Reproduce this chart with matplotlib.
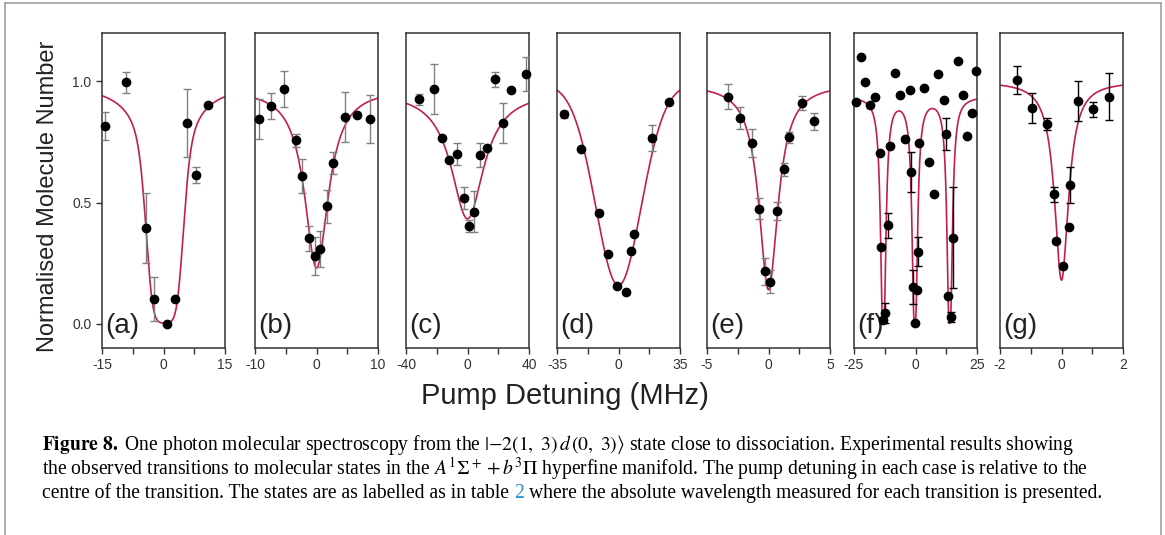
import numpy as np
import matplotlib.pyplot as plt

plt.rcParams['font.family'] = ['Liberation Sans', 'DejaVu Sans']
plt.rcParams['mathtext.fontset'] = 'stix'
plt.rcParams['axes.unicode_minus'] = False

# measured points (detuning in MHz, normalised number, error; 0 = no bar)
a_x = [-14.2, -9.2, -4.2, -2.3, 0.9, 2.8, 5.8, 7.9, 10.9]
a_y = [0.815, 0.996, 0.396, 0.103, 0.0, 0.103, 0.828, 0.615, 0.901]
a_err = [0.058, 0.043, 0.144, 0.09, 0, 0, 0.139, 0.033, 0]

b_x = [-9.35, -7.35, -5.35, -3.3, -2.4, -1.3, -0.32, 0.65, 1.68, 2.7, 4.7, 6.65, 8.7]
b_y = [0.845, 0.898, 0.970, 0.758, 0.609, 0.352, 0.280, 0.308, 0.484, 0.662, 0.853, 0.863, 0.845]
b_err = [0.081, 0.054, 0.074, 0.027, 0.069, 0.05, 0.077, 0.075, 0.07, 0.045, 0.104, 0, 0.10]

c_x = [-31.8, -22.1, -16.9, -12.0, -6.8, -2.0, 1.2, 4.0, 8.1, 13.0, 18.2, 23.2, 28.1, 38.0]
c_y = [0.926, 0.970, 0.766, 0.676, 0.70, 0.519, 0.404, 0.463, 0.695, 0.724, 1.01, 0.828, 0.963, 1.03]
c_err = [0.023, 0.103, 0, 0, 0.045, 0.045, 0.025, 0.085, 0.05, 0, 0.031, 0.082, 0, 0.069]

d_x = [-31.2, -21.3, -11.0, -6.1, -0.95, 4.2, 6.85, 8.9, 18.8, 28.7]
d_y = [0.865, 0.723, 0.459, 0.288, 0.155, 0.132, 0.299, 0.371, 0.768, 0.916]
d_err = [0.015, 0, 0, 0, 0, 0, 0, 0, 0.054, 0]

e_x = [-3.3, -2.32, -1.35, -0.81, -0.32, 0.16, 0.70, 1.22, 1.70, 2.70, 3.73]
e_y = [0.937, 0.849, 0.747, 0.474, 0.216, 0.173, 0.466, 0.637, 0.769, 0.913, 0.835]
e_err = [0.051, 0.045, 0.057, 0.043, 0.056, 0.048, 0.038, 0.026, 0.021, 0.029, 0.036]

f_x = [-24.2, -22.3, -20.6, -18.3, -16.3, -14.4, -13.9, -13.3, -12.4, -11.3, -10.4, -8.2,
       -6.4, -4.4, -2.35, -1.7, -1.1, -0.07, 0.74, 1.14, 1.41, 3.55, 5.4, 7.4, 9.3, 11.4,
       12.4, 13.3, 14.5, 15.3, 17.2, 19.4, 21.1, 23.1, 24.6]
f_y = [0.916, 1.099, 0.999, 0.904, 0.934, 0.703, 0.318, 0.017, 0.045, 0.406, 0.733, 1.034,
       0.944, 0.761, 0.963, 0.627, 0.151, 0.004, 0.139, 0.298, 0.744, 0.971, 0.668, 0.534,
       1.029, 0.922, 0.784, 0.116, 0.029, 0.356, 1.083, 0.946, 0.774, 0.871, 1.044]
f_err = [0, 0, 0, 0, 0, 0, 0, 0.012, 0.04, 0.05, 0, 0,
         0, 0, 0, 0.083, 0.069, 0, 0, 0.061, 0, 0, 0, 0,
         0, 0, 0.067, 0, 0.02, 0.21, 0, 0, 0, 0, 0]

g_x = [-1.45, -0.95, -0.47, -0.25, -0.17, 0.04, 0.24, 0.29, 0.55, 1.02, 1.54]
g_y = [1.005, 0.889, 0.824, 0.534, 0.343, 0.238, 0.40, 0.573, 0.920, 0.885, 0.937]
g_err = [0.058, 0.062, 0.024, 0.031, 0, 0, 0, 0.073, 0.082, 0.03, 0.096]

# fit parameters: baseline, depth, HWHM, lorentz fraction, centres, saturated
fit_a = [0.99, 6.0, 2.6, 0.3, [0.3], True]
fit_b = [0.97, 0.74, 2.35, 1.0, [0.0], False]
fit_c = [0.96, 0.527, 12.96, 1.0, [0.0], False]
fit_d = [1.0, 0.842, 15.5, 0.1, [0.0], False]
fit_e = [0.99, 0.85, 0.94, 1.0, [0.0], False]
fit_f = [0.94, 6.6, 0.45, 1.0, [-13.1, -0.27, 13.9], True]
fit_g = [1.0, 0.82, 0.276, 1.0, [0.0], False]

spans = [15, 10, 40, 35, 5, 25, 2]
labels = ['(a)', '(b)', '(c)', '(d)', '(e)', '(f)', '(g)']
lefts = [102, 255, 406, 557, 707, 854, 1000]


def fit_curve(x, c, k, g, eta, centres, sat):
    prof = np.zeros_like(x)
    for x0 in centres:
        u = ((x - x0) / g) ** 2
        prof = prof + eta / (1 + u) + (1 - eta) * np.exp(-np.log(2) * u)
    if sat:
        return c * np.exp(-k * prof)
    return c - k * prof


W, H = 1165, 535
fig = plt.figure(figsize=(W / 100, H / 100), dpi=100)

panels = [(a_x, a_y, a_err, fit_a), (b_x, b_y, b_err, fit_b), (c_x, c_y, c_err, fit_c),
          (d_x, d_y, d_err, fit_d), (e_x, e_y, e_err, fit_e), (f_x, f_y, f_err, fit_f),
          (g_x, g_y, g_err, fit_g)]

for i, (xs, ys, errs, fit) in enumerate(panels):
    ax = fig.add_axes([lefts[i] / W, 1 - 348 / H, 123 / W, 315 / H])
    s = spans[i]
    xx = np.linspace(-s, s, 600)
    ax.plot(xx, fit_curve(xx, *fit), color='#c21f4b', lw=1.2, zorder=2)
    xs, ys, errs = np.array(xs), np.array(ys), np.array(errs)
    m = errs > 0
    ecol = 'black' if i >= 5 else '#808080'
    ax.errorbar(xs[m], ys[m], yerr=errs[m], fmt='none', ecolor=ecol, elinewidth=1,
                capsize=3, capthick=1, zorder=3)
    ax.plot(xs, ys, 'o', color='black', ms=6, zorder=4, clip_on=False)
    ax.set_xlim(-s, s)
    ax.set_ylim(-0.1, 1.2)
    ax.set_xticks([-s, 0, s])
    ax.set_xticklabels([str(-s), '0', str(s)])
    ax.set_xticks([-s / 2, s / 2], minor=True)
    ax.tick_params(axis='x', which='both', direction='out', length=4, width=1,
                   colors='#333333', labelsize=10, pad=3)
    if i == 0:
        ax.set_yticks([0.0, 0.5, 1.0])
        ax.set_yticklabels(['0.0', '0.5', '1.0'])
        ax.tick_params(axis='y', direction='out', length=4, width=1,
                       colors='#333333', labelsize=10)
    else:
        ax.set_yticks([])
    for sp in ax.spines.values():
        sp.set_color('#333333')
        sp.set_linewidth(1.1)
    ax.text(0.03, 0.03, labels[i], transform=ax.transAxes, fontsize=20,
            va='bottom', ha='left', color='#222222')

fig.text(48 / W, 1 - 196 / H, 'Normalised Molecule Number', rotation=90,
         ha='center', va='center', fontsize=17, color='#222222')
fig.text(565 / W, 1 - 396 / H, 'Pump Detuning (MHz)', ha='center', va='center',
         fontsize=21, color='#222222')

# caption
cap = 14.1
serif = ['Liberation Serif', 'DejaVu Serif']
line1 = (r"$\mathbf{Figure\ 8.}$ One photon molecular spectroscopy from the "
         r"$|{-2}(1,\ 3)\,d\,(0,\ 3)\rangle$ state close to dissociation. Experimental results showing")
line2 = (r"the observed transitions to molecular states in the $A^1\mathit{\Sigma}^+ + b^3\mathit{\Pi}$"
         r" hyperfine manifold. The pump detuning in each case is relative to the")
line3a = "centre of the transition. The states are as labelled as in table"
line3b = "where the absolute wavelength measured for each transition is presented."

x0 = 42 / W
fig.text(x0, 1 - 450 / H, line1, fontsize=cap, family=serif, va='baseline')
fig.text(x0, 1 - 474.5 / H, line2, fontsize=cap, family=serif, va='baseline')
t3 = fig.text(x0, 1 - 498 / H, line3a, fontsize=cap, family=serif, va='baseline')
r = fig.canvas.get_renderer()
sp = cap * 100 / 72 * 0.25 / W
xa = t3.get_window_extent(r).x1 / W + sp
t2 = fig.text(xa, 1 - 498 / H, '2', fontsize=cap, family=serif, va='baseline', color='#2b8ccb')
xb = t2.get_window_extent(r).x1 / W + sp
fig.text(xb, 1 - 498 / H, line3b, fontsize=cap, family=serif, va='baseline')

# outer frame
for xs_, ys_ in [([5, 5], [535, 3]), ([5, 1161], [3, 3]), ([1161, 1161], [3, 535])]:
    fig.add_artist(plt.Line2D([v / W for v in xs_], [1 - v / H for v in ys_],
                              transform=fig.transFigure, color='#a0a0a0', lw=1.2))

fig.savefig('out.png', dpi=100)
